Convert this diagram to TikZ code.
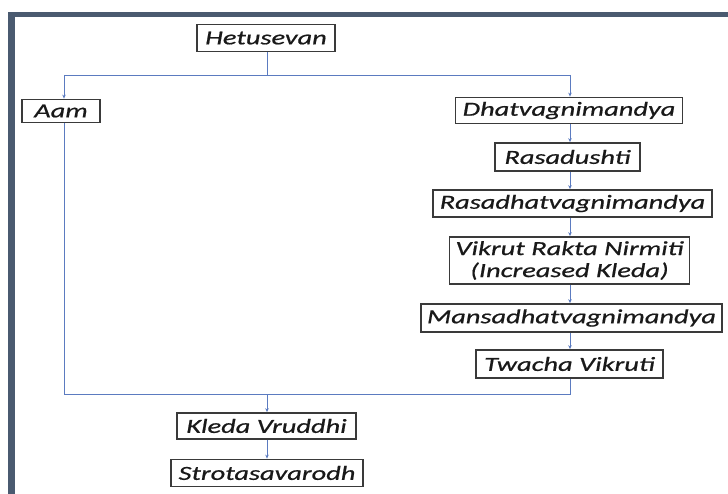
\documentclass[tikz,border=0pt]{standalone}
\usepackage{fontspec}
\newfontfamily\boxfont[FakeStretch=1.42,FakeBold=0.7]{Carlito}
\usetikzlibrary{arrows.meta}
\definecolor{framec}{HTML}{4A5A70}
\definecolor{connc}{HTML}{5B7BC0}
\definecolor{boxc}{HTML}{3A3A3A}
\tikzset{
  box/.style={draw=boxc, line width=1.8pt, fill=white, inner sep=0pt,
    font=\boxfont\itshape\fontsize{20}{22}\selectfont, align=center, text=black!90},
  conn/.style={draw=connc, line width=0.8pt},
  arr/.style={conn, -{Stealth[length=4pt,width=3.5pt]}}
}
\begin{document}
\begin{tikzpicture}[x=1pt,y=-1pt]
\useasboundingbox (0,0) rectangle (728,494);
\fill[white] (0,0) rectangle (728,494);
\fill[framec] (8,12) rectangle (728,17);
\fill[framec] (8,12) rectangle (15,494);
% nodes
\node[box, minimum width=138pt, minimum height=27pt] (het) at (266,38) {Hetusevan};
\node[box, minimum width=78pt, minimum height=23pt] (aam) at (61,111) {Aam};
\node[box, minimum width=227pt, minimum height=26pt] (dh) at (569,110.5) {Dhatvagnimandya};
\node[box, minimum width=145pt, minimum height=28pt] (ras) at (567.5,157) {Rasadushti};
\node[box, minimum width=279pt, minimum height=27pt] (rdh) at (572.5,203.5) {Rasadhatvagnimandya};
\node[box, minimum width=240pt, minimum height=47pt] (vik) at (569.5,260.5) {Vikrut Rakta Nirmiti\\(Increased Kleda)};
\node[box, minimum width=301pt, minimum height=28pt] (man) at (571.5,318) {Mansadhatvagnimandya};
\node[box, minimum width=187pt, minimum height=28pt] (tw) at (569.5,364) {Twacha Vikruti};
\node[box, minimum width=179pt, minimum height=26pt] (kle) at (266.5,426) {Kleda Vruddhi};
\node[box, minimum width=192pt, minimum height=27pt] (str) at (267,473) {Strotasavarodh};
% junction coordinates
\coordinate (jl) at (64,75);
\coordinate (jr) at (570,75);
\coordinate (jm) at (267,75);
\coordinate (bl) at (64,394);
\coordinate (br) at (570,394);
\coordinate (bm) at (267,394);
% connectors
\draw[conn] (het.south -| jm) -- (jm);
\draw[conn] (jl) -- (jr);
\draw[arr] (jl) -- (jl |- aam.north);
\draw[arr] (jr) -- (jr |- dh.north);
\draw[arr] (dh.south -| jr) -- (ras.north -| jr);
\draw[arr] (ras.south -| jr) -- (rdh.north -| jr);
\draw[arr] (rdh.south -| jr) -- (vik.north -| jr);
\draw[arr] (vik.south -| jr) -- (man.north -| jr);
\draw[arr] (man.south -| jr) -- (tw.north -| jr);
\draw[conn] (aam.south -| jl) -- (bl) -- (br) -- (tw.south -| br);
\draw[arr] (bm) -- (kle.north -| bm);
\draw[arr] (kle.south -| bm) -- (str.north -| bm);
\end{tikzpicture}
\end{document}
